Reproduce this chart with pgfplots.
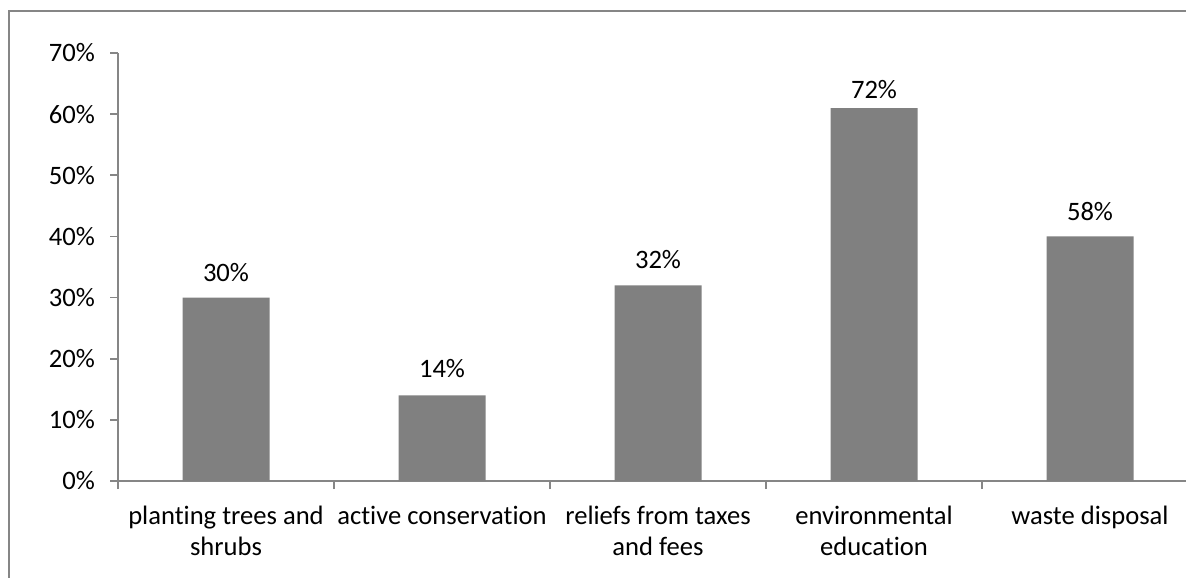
\documentclass[border=0pt]{standalone}
\usepackage{pgfplots}
\pgfplotsset{compat=1.18}
\usepackage{fontspec}
\setmainfont{Carlito}[Ligatures={NoCommon,TeX}]
\definecolor{axgray}{RGB}{134,134,134}
\definecolor{bargray}{RGB}{128,128,128}
\begin{document}
\begin{tikzpicture}[font=\fontsize{13.3}{15.5}\selectfont]
\useasboundingbox (0,0) rectangle (593pt,-288.5pt);
\clip (0,0) rectangle (593pt,-288.5pt);
\draw[axgray, line width=1pt] (4.5pt,-5.5pt) rectangle (620pt,-320pt);
\begin{axis}[
  at={(59pt,-240.5pt)}, anchor=south west,
  scale only axis, width=540pt, height=214pt,
  xmin=-0.5, xmax=4.5, ymin=0, ymax=70,
  axis x line*=bottom, axis y line*=left,
  axis line style={axgray, line width=0.9pt, -},
  tick align=outside,
  major tick length=0pt, minor tick length=4pt,
  minor tick style={axgray, line width=0.9pt},
  xtick={0,1,2,3,4},
  minor xtick={-0.5,0.5,1.5,2.5,3.5,4.5},
  xticklabels={{\strut planting trees and\\shrubs},{\strut active conservation},{\strut reliefs from taxes\\and fees},{\strut environmental\\education},{\strut waste disposal}},
  xticklabel style={align=center, yshift=-7.3pt},
  ytick={0,10,20,30,40,50,60,70},
  minor ytick={0,10,20,30,40,50,60,70},
  yticklabels={0\%,10\%,20\%,30\%,40\%,50\%,60\%,70\%},
  yticklabel style={xshift=-8pt},
  ybar, bar width=43.5pt,
  point meta=explicit symbolic,
  visualization depends on={value \thisrow{off} \as \labeloff},
  nodes near coords={\pgfplotspointmeta\%},
  every node near coord/.append style={yshift=\labeloff pt, black},
  clip=false,
]
\addplot[fill=bargray, draw=none] table[meta=lab] {
x y lab off
0 30 30 4.6
1 14 14 5.2
2 32 32 4.6
3 61 72 1.2
4 40 58 4.5
};
\end{axis}
\end{tikzpicture}
\end{document}
